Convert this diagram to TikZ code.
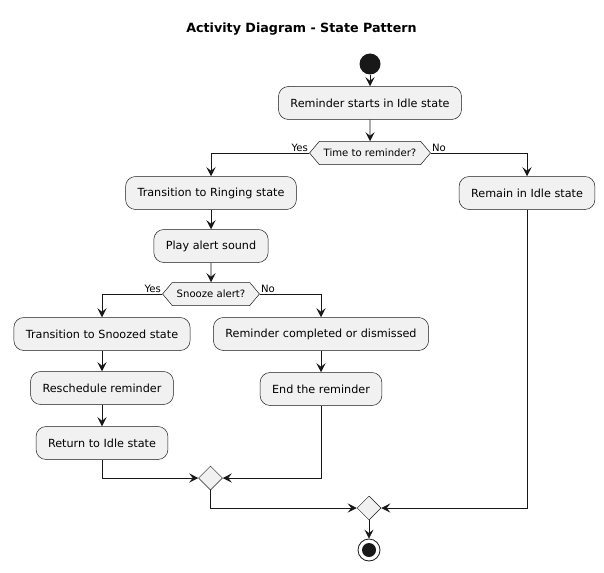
\documentclass[tikz,border=0pt]{standalone}
\usepackage{fontspec}
\setmainfont{DejaVu Sans}
\usepackage{xcolor}
\usepackage{tikz}
\usetikzlibrary{arrows.meta,shapes.geometric,shapes.symbols}
\definecolor{umlline}{HTML}{181818}
\definecolor{umlfill}{HTML}{F1F1F1}

\begin{document}
\begin{tikzpicture}[x=1pt, y=-1pt,
  action/.style={draw=umlline, line width=0.5pt, fill=umlfill, rounded corners=10pt,
    minimum height=33pt, inner xsep=12pt, font=\fontsize{11.2}{13}\selectfont},
  choice/.style={draw=umlline, line width=0.5pt, fill=umlfill, shape=signal,
    signal to=east and west, signal pointer angle=100, minimum height=23pt,
    inner xsep=4.5pt, inner ysep=0pt, font=\fontsize{10.1}{12}\selectfont},
  merge/.style={draw=umlline, line width=0.5pt, fill=umlfill, diamond,
    minimum size=24pt, inner sep=0pt},
  flow/.style={draw=umlline, line width=0.8pt, -{Stealth[length=9pt, width=9pt, inset=3.5pt]}},
  guard/.style={font=\fontsize{10.1}{12}\selectfont, inner sep=1pt}]
\useasboundingbox (0,0) rectangle (604,572);

% title
\node[font=\bfseries\fontsize{12.7}{15}\selectfont] (title) at (301.5,29) {Activity Diagram - State Pattern};

% start
\node[circle, fill=umlline, minimum size=21pt, inner sep=0pt] (start) at (370,64) {};
\node[action] (idle) at (370,103) {Reminder starts in Idle state};
\node[choice] (timeq) at (370,153) {Time to reminder?};

% ringing branch
\node[action] (ring) at (211,193) {Transition to Ringing state};
\node[action] (sound) at (211,246) {Play alert sound};
\node[choice] (snoozeq) at (211,294) {Snooze alert?};

% snoozed branch
\node[action] (snoozed) at (102,334) {Transition to Snoozed state};
\node[action] (resched) at (102,388) {Reschedule reminder};
\node[action] (back) at (102,443) {Return to Idle state};

% completed branch
\node[action] (done) at (321,334) {Reminder completed or dismissed};
\node[action] (finish) at (321,389) {End the reminder};

% stay idle
\node[action] (remain) at (527,193) {Remain in Idle state};

% merges and end
\node[merge] (merge1) at (210.5,478) {};
\node[merge] (merge2) at (369,508) {};
\node[circle, draw=umlline, line width=0.8pt, minimum size=22pt, inner sep=0pt] (stop) at (369,550) {};
\node[circle, fill=umlline, minimum size=14pt, inner sep=0pt] (stopdot) at (369,550) {};

% connectors
\draw[flow] (start) -- (idle);
\draw[flow] (idle) -- (timeq);
\draw[flow] (timeq.west) node[guard, above left] {Yes} -| (ring.north);
\draw[flow] (timeq.east) node[guard, above right] {No} -| (remain.north);
\draw[flow] (ring) -- (sound);
\draw[flow] (sound) -- (snoozeq);
\draw[flow] (snoozeq.west) node[guard, above left] {Yes} -| (snoozed.north);
\draw[flow] (snoozeq.east) node[guard, above right] {No} -| (done.north);
\draw[flow] (snoozed) -- (resched);
\draw[flow] (resched) -- (back);
\draw[flow] (done) -- (finish);
\draw[flow] (back.south) |- (merge1.west);
\draw[flow] (finish.south) |- (merge1.east);
\draw[flow] (merge1.south) |- (merge2.west);
\draw[flow] (remain.south) |- (merge2.east);
\draw[flow] (merge2) -- (stop);
\end{tikzpicture}
\end{document}
